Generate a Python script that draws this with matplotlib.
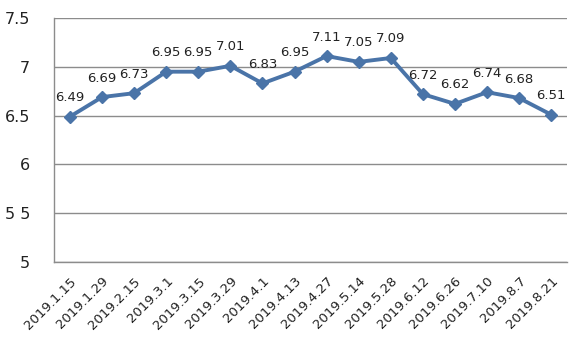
import matplotlib
matplotlib.use("Agg")
import matplotlib.pyplot as plt

# 日期与数值
dates = ["2019.1.15", "2019.1.29", "2019.2.15", "2019.3.1", "2019.3.15", "2019.3.29",
         "2019.4.1", "2019.4.13", "2019.4.27", "2019.5.14", "2019.5.28", "2019.6.12",
         "2019.6.26", "2019.7.10", "2019.8.7", "2019.8.21"]
values = [6.49, 6.69, 6.73, 6.95, 6.95, 7.01, 6.83, 6.95, 7.11, 7.05, 7.09, 6.72,
          6.62, 6.74, 6.68, 6.51]
yticks = [5, 5.5, 6, 6.5, 7, 7.5]
ytick_labels = ["5", "5 5", "6", "6.5", "7", "7.5"]

plt.rcParams['font.family'] = ['DejaVu Sans']

fig = plt.figure(figsize=(5.8, 3.45), dpi=100)
ax = fig.add_axes([0.093, 0.24, 0.885, 0.708])

x = list(range(len(dates)))
ax.plot(x, values, color="#4A74A8", linewidth=2.8, marker="D", markersize=6.5,
        markerfacecolor="#4A74A8", markeredgecolor="#4A74A8", zorder=3)

for xi, v in zip(x, values):
    ax.annotate("%.2f" % v, (xi, v), xytext=(0, 9), textcoords="offset points",
                ha="center", va="bottom", fontsize=9.5, color="#222222")

ax.set_xlim(-0.5, len(dates) - 0.5)
ax.set_ylim(5, 7.5)
ax.set_yticks(yticks)
ax.set_yticklabels(ytick_labels, fontsize=11.5, color="#222222")
ax.set_xticks(x)
ax.set_xticklabels(dates, rotation=45, ha="right", rotation_mode="anchor",
                   fontsize=9.5, color="#222222")
ax.tick_params(axis="both", length=0)
ax.tick_params(axis="y", pad=17)
ax.tick_params(axis="x", pad=9)

ax.grid(axis="y", color="#8c8c8c", linewidth=1)
ax.set_axisbelow(True)
for side in ["top", "right"]:
    ax.spines[side].set_visible(False)
for side in ["left", "bottom"]:
    ax.spines[side].set_color("#8c8c8c")
    ax.spines[side].set_linewidth(1)

fig.savefig("out.png", dpi=100)
